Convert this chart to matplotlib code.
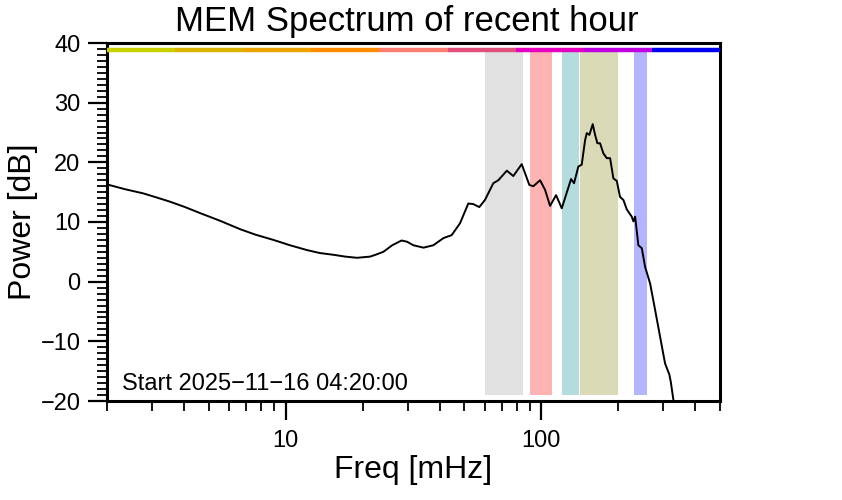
import numpy as np
import matplotlib
matplotlib.use("Agg")
import matplotlib.pyplot as plt
from matplotlib.ticker import LogLocator, NullFormatter, FixedLocator, FixedFormatter, MultipleLocator

plt.rcParams['font.family'] = ['Liberation Sans', 'DejaVu Sans']

# Spectrum (frequency in mHz, power in dB)
freq = [2.0, 2.35, 2.77, 3.08, 3.53, 4.04, 4.62, 5.54, 6.63, 7.59, 8.95, 10.4,
        12.1, 13.6, 15.4, 17.1, 19.0, 21.4, 22.6, 24.1, 26.1, 28.4, 29.8,
        31.6, 34.6, 37.8, 41.4, 44.6, 48.1, 51.8, 54.2, 57.2, 60.2, 64.9, 67.9,
        73.3, 77.7, 83.8, 89.8, 93.1, 98.9, 103.4, 108.2, 114.2, 120.2, 125.7,
        130.7, 134.3, 139.6, 143.9, 148.3, 150.6, 154.2, 158.9, 162.3, 165.7,
        169.7, 174.9, 180.3, 185.8, 191.4, 197.3, 203.2, 209.4, 216.0, 225.8,
        229.2, 232.8, 239.7, 247.2, 254.6, 266.4, 278.6, 291.4, 304.8, 317.0,
        321.0, 328.6, 335.0]
power = [16.3, 15.5, 14.8, 14.2, 13.4, 12.5, 11.5, 10.2, 8.8, 7.9, 7.0, 6.1,
         5.3, 4.8, 4.5, 4.2, 4.0, 4.2, 4.55, 5.0, 6.1, 6.9, 6.7,
         6.1, 5.7, 6.1, 7.3, 7.8, 9.8, 13.1, 13.0, 12.5, 13.7, 16.5, 17.0,
         18.6, 17.7, 19.7, 16.2, 16.0, 17.0, 15.4, 12.7, 14.5, 12.3, 14.9,
         17.2, 16.5, 19.3, 19.6, 23.7, 24.9, 24.6, 26.4, 24.6, 23.2,
         23.2, 21.5, 20.7, 20.7, 17.3, 16.9, 14.2, 13.7, 12.1, 10.9,
         10.1, 10.9, 6.1, 5.6, 2.5, -0.3, -4.7, -9.2, -13.7, -15.6,
         -16.8, -19.8, -21.5]

# Shaded frequency bands (mHz)
band_lo = [60, 90, 120, 142, 230]
band_hi = [85, 110, 140, 200, 260]
band_colors = ['#e1e1e1', '#ffb4b4', '#b4dcdf', '#dadab6', '#b4b4ff']

# Top colour bar segments
bar_colors = ['#c8d000', '#dab200', '#eea400', '#ff8c00', '#ff7d73',
              '#e0507a', '#e600c0', '#c000e0', '#0000f0']

start_label = 'Start 2025\u221211\u221216 04:20:00'

xmin, xmax = 2, 500
ymin, ymax = -20, 40

fig = plt.figure(figsize=(8.42, 5.0), dpi=100)
ax = fig.add_axes([107/842, 1-401/500, 613/842, 358/500])
ax.set_xscale('log')
ax.set_xlim(xmin, xmax)
ax.set_ylim(ymin, ymax)

for lo, hi, c in zip(band_lo, band_hi, band_colors):
    ax.fill_between([lo, hi], -19, 38.6, color=c, lw=0, zorder=1)

edges = np.logspace(np.log10(xmin), np.log10(xmax), len(bar_colors) + 1)
for i, c in enumerate(bar_colors):
    ax.plot([edges[i], edges[i+1]], [38.9, 38.9], color=c, lw=3.2,
            solid_capstyle='butt', zorder=3, clip_on=False)

ax.plot(freq, power, color='black', lw=1.4, zorder=4)

ax.text(0.025, 0.03, start_label, transform=ax.transAxes,
        fontsize=17, ha='left', va='baseline')

for s in ax.spines.values():
    s.set_linewidth(2.2)

ax.xaxis.set_major_locator(FixedLocator([10, 100]))
ax.xaxis.set_major_formatter(FixedFormatter(['10', '100']))
ax.xaxis.set_minor_locator(LogLocator(base=10, subs=np.arange(2, 10)))
ax.xaxis.set_minor_formatter(NullFormatter())
ax.yaxis.set_major_locator(MultipleLocator(10))
ax.yaxis.set_minor_locator(MultipleLocator(1))

ax.tick_params(axis='both', which='major', length=14, width=1.6, labelsize=17,
               direction='out')
ax.tick_params(axis='x', which='major', pad=7)
ax.tick_params(axis='y', which='major', pad=5)
ax.tick_params(axis='both', which='minor', length=7, width=1.3, direction='out')

ax.set_title('MEM Spectrum of recent hour', fontsize=25, pad=9, x=0.489)
ax.set_xlabel('Freq [mHz]', fontsize=23, labelpad=2)
ax.set_ylabel('Power [dB]', fontsize=23, labelpad=2)

fig.savefig('out.png', dpi=100)
